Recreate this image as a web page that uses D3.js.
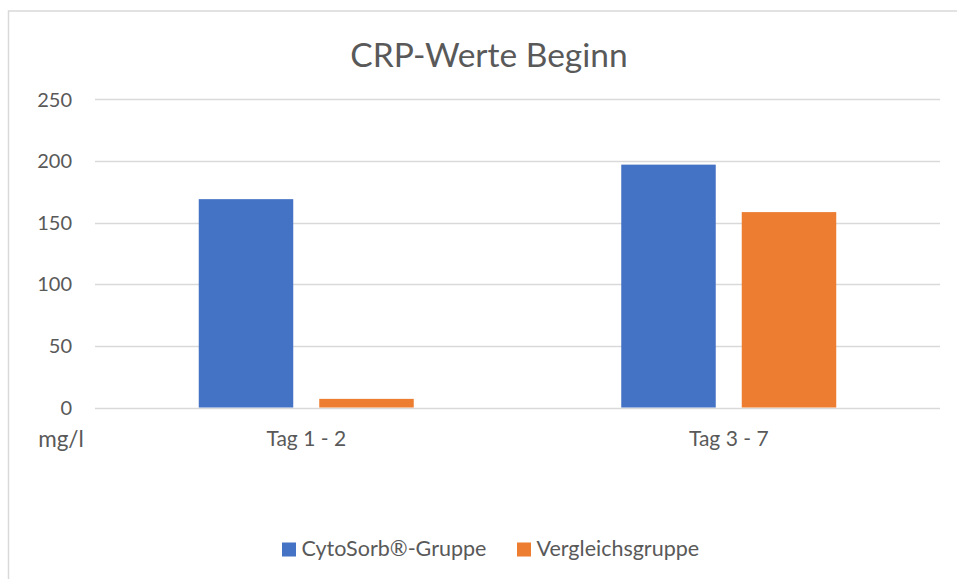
<!DOCTYPE html>
<html>
<head>
<meta charset="utf-8">
<script src="https://cdn.jsdelivr.net/npm/d3@7"></script>
<style>
  html, body { margin: 0; padding: 0; background: #fff; }
  svg { display: block; }
  text { font-family: Lato, "Open Sans", sans-serif; fill: #595959; }
</style>
</head>
<body>
<svg id="chart" width="957" height="579"></svg>
<script>
const categories = ["Tag 1 - 2", "Tag 3 - 7"];
const seriesNames = ["CytoSorb®-Gruppe", "Vergleichsgruppe"];
const cytosorbValues = [169, 197];
const vergleichValues = [7, 158.5];
const yTicks = [0, 50, 100, 150, 200, 250];
const colors = ["#4472C4", "#ED7D31"];

const seriesValues = [cytosorbValues, vergleichValues];
const data = categories.map((c, i) => ({
  category: c,
  values: seriesNames.map((s, j) => ({ series: s, value: seriesValues[j][i], idx: j }))
}));

const svg = d3.select("#chart");

// chart border
svg.append("rect").attr("x", 8.5).attr("y", 11).attr("width", 960).attr("height", 580)
  .attr("fill", "#fff").attr("stroke", "#d9d9d9").attr("stroke-width", 1.5);

const pLeft = 95, pRight = 940, pTop = 99.3, pBottom = 407.5;

const y = d3.scaleLinear().domain([0, 250]).range([pBottom, pTop]);
const x0 = d3.scaleBand().domain(categories).range([pLeft, pRight]).padding(0);
const x1 = d3.scaleBand().domain(seriesNames).range([0, x0.bandwidth()])
  .paddingInner(0.2158).paddingOuter(0.861);

// gridlines
svg.append("g").selectAll("line").data(yTicks).join("line")
  .attr("x1", pLeft).attr("x2", pRight)
  .attr("y1", d => Math.round(y(d)) + 0.5).attr("y2", d => Math.round(y(d)) + 0.5)
  .attr("stroke", "#d9d9d9").attr("stroke-width", 1.3);

// y tick labels
svg.append("g").selectAll("text").data(yTicks).join("text")
  .attr("x", 72).attr("y", d => y(d)).attr("dy", "0.36em")
  .attr("text-anchor", "end").attr("font-size", 20).text(d => d);

// unit label
svg.append("text").attr("x", 61).attr("y", 447).attr("text-anchor", "middle")
  .attr("font-size", 22.5).text("mg/l");

// bars
const groups = svg.append("g").selectAll("g").data(data).join("g")
  .attr("transform", d => `translate(${x0(d.category)},0)`);
groups.selectAll("rect").data(d => d.values).join("rect")
  .attr("x", d => x1(d.series)).attr("width", x1.bandwidth())
  .attr("y", d => y(d.value)).attr("height", d => y(0) - y(d.value))
  .attr("fill", d => colors[d.idx]);

// category labels
svg.append("g").selectAll("text").data(categories).join("text")
  .attr("x", d => x0(d) + x0.bandwidth() / 2).attr("y", 446)
  .attr("text-anchor", "middle").attr("font-size", 21).text(d => d);

// title
svg.append("text").attr("x", 489).attr("y", 67).attr("text-anchor", "middle")
  .attr("font-size", 33.5).text("CRP-Werte Beginn");

// legend
const legendItems = [
  { name: seriesNames[0], color: colors[0], x: 282 },
  { name: seriesNames[1], color: colors[1], x: 517 }
];
const lg = svg.append("g").selectAll("g").data(legendItems).join("g")
  .attr("transform", d => `translate(${d.x},0)`);
lg.append("rect").attr("x", 0).attr("y", 542.5).attr("width", 14).attr("height", 14)
  .attr("fill", d => d.color);
lg.append("text").attr("x", 19.5).attr("y", 556).attr("font-size", 21.5).text(d => d.name);
</script>
</body>
</html>
